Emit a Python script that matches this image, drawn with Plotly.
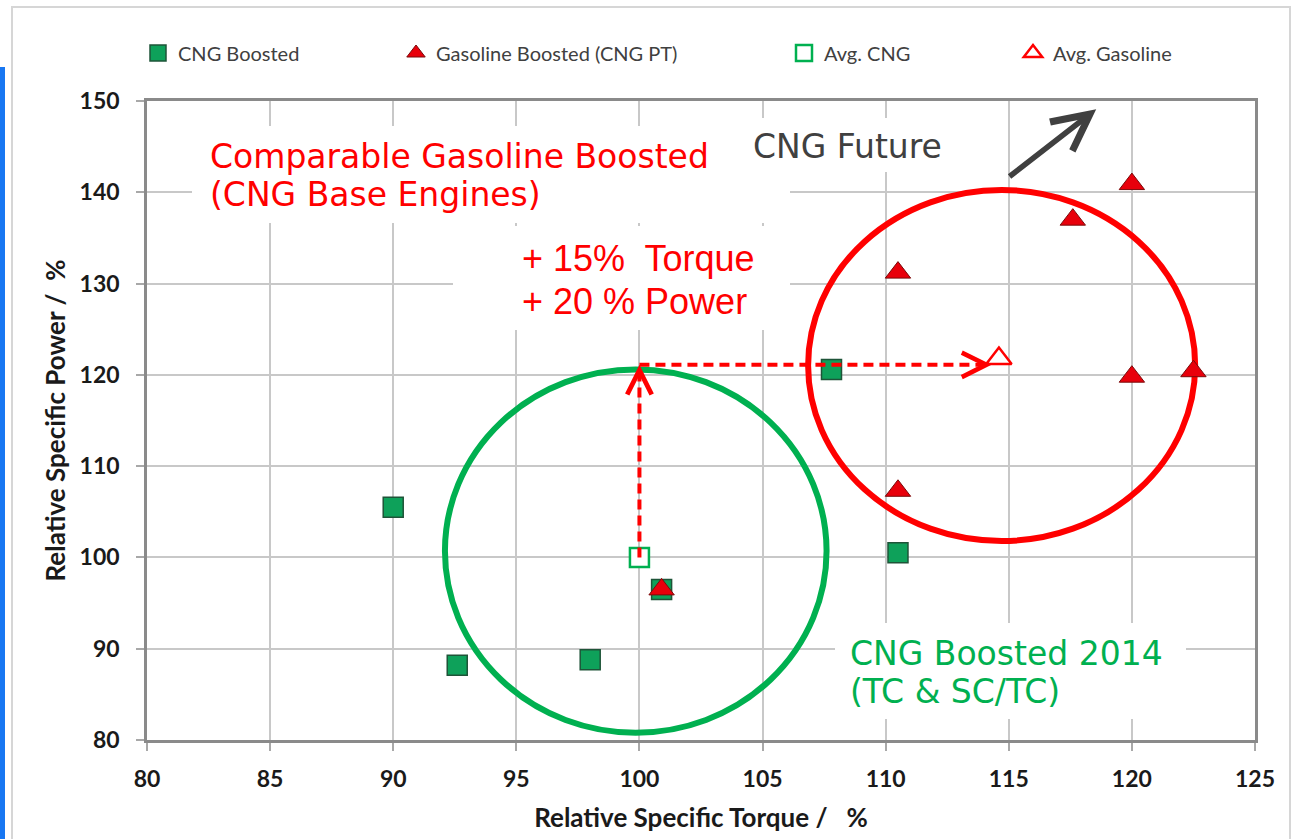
import plotly.graph_objects as go

# ---------------- data ----------------
cng_x = [90.0, 92.6, 98.0, 100.9, 107.8, 110.5]
cng_y = [105.5, 88.2, 88.8, 96.5, 120.6, 100.5]

gas_x = [100.9, 110.5, 110.5, 117.6, 120.0, 120.0, 122.5]
gas_y = [96.5, 107.3, 131.2, 137.0, 140.9, 119.8, 120.4]

avg_cng_x = [100.0]
avg_cng_y = [100.0]

avg_gas_x = [114.6]
avg_gas_y = [121.8]

series_names = ["CNG Boosted", "Gasoline Boosted (CNG PT)", "Avg. CNG", "Avg. Gasoline"]

x_ticks = [80, 85, 90, 95, 100, 105, 110, 115, 120, 125]
y_ticks = [80, 90, 100, 110, 120, 130, 140, 150]

# ---------------- layout helpers (pixel -> paper) ----------------
W, H = 1292, 839
ML, MR, MT, MB = 147, 37, 101, 99
PW, PH = W - ML - MR, H - MT - MB


def px(x):
    return (x - ML) / PW


def py(y):
    return (H - MB - y) / PH


RED = "#FF0000"
GREEN = "#00B050"
GRAY_TXT = "#404040"

fig = go.Figure()

fig.add_trace(go.Scatter(
    x=cng_x, y=cng_y, mode="markers", name=series_names[0], legend="legend",
    marker=dict(symbol="square", size=20, color="#0EA15A",
                line=dict(color="#1E5438", width=1.5)),
))
fig.add_trace(go.Scatter(
    x=gas_x, y=gas_y, mode="markers", name=series_names[1], legend="legend2",
    marker=dict(symbol="triangle-up", size=22, color="#E8000B",
                line=dict(color="#7A0A0A", width=1)),
))
fig.add_trace(go.Scatter(
    x=avg_cng_x, y=avg_cng_y, mode="markers", name=series_names[2], legend="legend3",
    marker=dict(symbol="square", size=19, color="white",
                line=dict(color=GREEN, width=2.5)),
))
fig.add_trace(go.Scatter(
    x=avg_gas_x, y=avg_gas_y, mode="markers", name=series_names[3], legend="legend4",
    marker=dict(symbol="triangle-up", size=22, color="white",
                line=dict(color=RED, width=2.5)),
))

shapes = []
# outer light frame and blue strip
shapes.append(dict(type="rect", xref="paper", yref="paper",
                   x0=px(12), x1=px(1290), y0=py(7), y1=py(860),
                   line=dict(color="#D6D6D6", width=2), layer="below"))
shapes.append(dict(type="rect", xref="paper", yref="paper",
                   x0=px(0), x1=px(5), y0=py(67), y1=py(845),
                   fillcolor="#1877F2", line=dict(width=0), layer="above"))

# circles
shapes.append(dict(type="circle", xref="x", yref="y", x0=92.1, x1=107.6, y0=80.8, y1=120.6,
                   line=dict(color=GREEN, width=6), layer="between"))
shapes.append(dict(type="circle", xref="x", yref="y", x0=106.85, x1=122.57, y0=101.8, y1=140.25,
                   line=dict(color=RED, width=6), layer="between"))

# dashed arrows (lines)
shapes.append(dict(type="line", xref="x", yref="y", x0=100, x1=100, y0=100.0, y1=120.6,
                   line=dict(color=RED, width=4, dash="10px,6px"), layer="above"))
shapes.append(dict(type="line", xref="x", yref="y", x0=100, x1=113.9, y0=121.1, y1=121.1,
                   line=dict(color=RED, width=4, dash="10px,6px"), layer="above"))

# white text boxes
for (x0, x1, y0, y1) in [(192, 790, 126, 223), (453, 790, 226, 330),
                         (735, 965, 118, 172), (835, 1186, 623, 719)]:
    shapes.append(dict(type="rect", xref="paper", yref="paper",
                       x0=px(x0), x1=px(x1), y0=py(y1), y1=py(y0),
                       fillcolor="white", line=dict(width=0), layer="above"))

annotations = []


def txt(text, x, y, color, size, family):
    annotations.append(dict(text=text, xref="paper", yref="paper", x=px(x), y=py(y),
                            xanchor="left", yanchor="middle", showarrow=False,
                            font=dict(color=color, size=size, family=family)))


txt("Comparable Gasoline Boosted", 208, 156, RED, 33, "DejaVu Sans")
txt("(CNG Base Engines)", 208, 194, RED, 33, "DejaVu Sans")
txt("+ 15%  Torque", 520, 258, RED, 36, "Liberation Sans")
txt("+ 20 % Power", 520, 301, RED, 36, "Liberation Sans")
txt("CNG Future", 751, 146, GRAY_TXT, 33, "DejaVu Sans")
txt("CNG Boosted 2014", 848, 653, GREEN, 33, "DejaVu Sans")
txt("(TC &amp; SC/TC)", 848, 691, GREEN, 33, "DejaVu Sans")

# arrow heads of the dashed arrows
annotations.append(dict(x=100, y=121.1, xref="x", yref="y", text="", showarrow=True,
                        ax=0, ay=14, arrowhead=5, arrowsize=1.2, arrowwidth=4,
                        arrowcolor=RED, standoff=0))
annotations.append(dict(x=114.3, y=121.1, xref="x", yref="y", text="", showarrow=True,
                        ax=-14, ay=0, arrowhead=5, arrowsize=1.2, arrowwidth=4,
                        arrowcolor=RED, standoff=0))
# CNG Future arrow
annotations.append(dict(x=118.55, y=149.1, xref="x", yref="y", text="", showarrow=True,
                        axref="x", ayref="y", ax=114.97, ay=141.6,
                        arrowhead=5, arrowsize=1.3, arrowwidth=5.5,
                        arrowcolor="#404040", standoff=0))

legend_font = dict(family="Lato", size=20, color=GRAY_TXT)
leg_text_x = [178, 436, 824, 1053]
legends = {}
for i, key in enumerate(["legend", "legend2", "legend3", "legend4"]):
    legends[key] = dict(x=px(leg_text_x[i] - 40), y=py(53), xanchor="left", yanchor="middle",
                        orientation="h", font=legend_font, bgcolor="rgba(0,0,0,0)",
                        borderwidth=0, itemwidth=30)

axis_common = dict(
    showgrid=True, gridcolor="#C8C8C8", gridwidth=2,
    showline=True, linecolor="#8A8A8A", linewidth=2.5, mirror=True,
    ticks="outside", ticklen=8, tickcolor="#A8A8A8", tickwidth=1.5,
    zeroline=False,
    tickfont=dict(family="Lato", size=23, color="#1A1A1A", weight="bold"),
)

fig.update_layout(
    width=W, height=H,
    margin=dict(l=ML, r=MR, t=MT, b=MB, autoexpand=False),
    paper_bgcolor="white", plot_bgcolor="white",
    xaxis=dict(range=[80, 125], tickvals=x_ticks, ticktext=[str(v) for v in x_ticks],
               ticklabelstandoff=9,
               title=dict(text="Relative Specific Torque /   %", standoff=18,
                          font=dict(family="Lato", size=26, color="#1A1A1A", weight="bold")),
               **axis_common),
    yaxis=dict(range=[80, 150], tickvals=y_ticks, ticktext=[str(v) for v in y_ticks],
               ticklabelstandoff=12,
               title=dict(text="Relative Specific Power /  %", standoff=7,
                          font=dict(family="Lato", size=26, color="#1A1A1A", weight="bold")),
               **axis_common),
    shapes=shapes,
    annotations=annotations,
    showlegend=True,
    **legends,
)

fig.write_html("out.html")
